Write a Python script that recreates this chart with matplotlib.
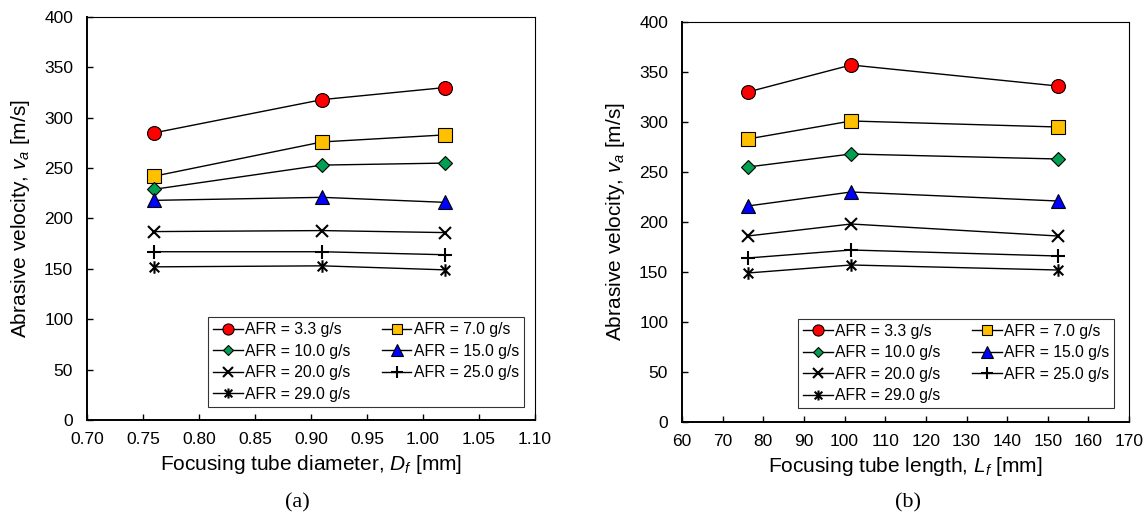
import numpy as np
import matplotlib
matplotlib.use('Agg')
import matplotlib.pyplot as plt
from matplotlib.path import Path

plt.rcParams['font.family'] = ['Liberation Sans', 'DejaVu Sans']
plt.rcParams['mathtext.fontset'] = 'custom'
plt.rcParams['mathtext.it'] = 'Liberation Sans:italic'
plt.rcParams['mathtext.rm'] = 'Liberation Sans'

# data
afr_labels = ['AFR = 3.3 g/s', 'AFR = 7.0 g/s', 'AFR = 10.0 g/s', 'AFR = 15.0 g/s',
              'AFR = 20.0 g/s', 'AFR = 25.0 g/s', 'AFR = 29.0 g/s']

diameter = [0.76, 0.91, 1.02]
vel_diameter = [
    [285, 318, 330],
    [242, 276, 283],
    [229, 253, 255],
    [218, 221, 216],
    [187, 188, 186],
    [167, 167, 164],
    [152, 153, 149],
]

length = [76.2, 101.6, 152.4]
vel_length = [
    [330, 357, 336],
    [283, 301, 295],
    [255, 268, 263],
    [216, 230, 221],
    [186, 198, 186],
    [164, 172, 166],
    [149, 157, 152],
]

# asterisk marker: x plus vertical bar
star = Path([(-1, -1), (1, 1), (-1, 1), (1, -1), (0, -1.3), (0, 1.3)],
            [Path.MOVETO, Path.LINETO, Path.MOVETO, Path.LINETO, Path.MOVETO, Path.LINETO])

styles = [
    dict(marker='o', markersize=10, markerfacecolor='#FF0000', markeredgecolor='black', markeredgewidth=0.8),
    dict(marker='s', markersize=9.5, markerfacecolor='#FFC000', markeredgecolor='black', markeredgewidth=0.8),
    dict(marker='D', markersize=7, markerfacecolor='#00A050', markeredgecolor='black', markeredgewidth=0.8),
    dict(marker='^', markersize=10, markerfacecolor='#0000FF', markeredgecolor='black', markeredgewidth=0.8),
    dict(marker='x', markersize=9, markeredgecolor='black', markeredgewidth=1.5),
    dict(marker='+', markersize=10, markeredgecolor='black', markeredgewidth=1.5),
    dict(marker=star, markersize=9, markeredgecolor='black', markeredgewidth=1.5),
]

fig = plt.figure(figsize=(11.48, 5.15), dpi=100)
ax1 = fig.add_axes([0.0758, 0.1845, 0.3902, 0.7825])
ax2 = fig.add_axes([0.5941, 0.1806, 0.3894, 0.7767])


def draw_panel(ax, x, series, xlim, xticks, xfmt, xlabel, anchor):
    lines = []
    for vals, st, lab in zip(series, styles, afr_labels):
        ln, = ax.plot(x, vals, color='black', linewidth=1.0, label=lab, **st)
        lines.append(ln)
    ax.set_xlim(*xlim)
    ax.set_ylim(0, 400)
    ax.set_xticks(xticks)
    ax.set_xticklabels([xfmt.format(v) for v in xticks])
    ax.set_yticks(np.arange(0, 401, 50))
    ax.tick_params(direction='in', length=4, width=1, labelsize=12.5, colors='black')
    ax.tick_params(axis='x', pad=9)
    ax.tick_params(axis='y', pad=10)
    ax.set_xlabel(xlabel, fontsize=15, labelpad=4)
    ax.set_ylabel('Abrasive velocity, $v_a$ [m/s]', fontsize=15, labelpad=9)
    for side in ['left', 'bottom']:
        ax.spines[side].set_linewidth(1.4)
    for side in ['top', 'right']:
        ax.spines[side].set_linewidth(0.8)
    # reorder so the legend reads row by row
    order = [0, 2, 4, 6, 1, 3, 5]
    leg = ax.legend([lines[i] for i in order], [afr_labels[i] for i in order],
                    ncol=2, loc='lower right', bbox_to_anchor=anchor,
                    fontsize=11.3, frameon=True, fancybox=False, edgecolor='black',
                    handlelength=1.9, handletextpad=0.15, columnspacing=2.0,
                    labelspacing=0.42, borderpad=0.3, borderaxespad=0, markerscale=0.8)
    leg.get_frame().set_linewidth(0.8)


draw_panel(ax1, diameter, vel_diameter, (0.70, 1.10), np.arange(0.70, 1.101, 0.05), '{:.2f}',
           'Focusing tube diameter, $D_f$ [mm]', (0.975, 0.033))
draw_panel(ax2, length, vel_length, (60, 170), np.arange(60, 171, 10), '{:.0f}',
           'Focusing tube length, $L_f$ [mm]', (0.966, 0.035))

fig.text(0.259, 0.0233, '(a)', fontsize=16, family='Liberation Serif', ha='center', va='center')
fig.text(0.791, 0.0233, '(b)', fontsize=16, family='Liberation Serif', ha='center', va='center')

fig.savefig('out.png', dpi=100)
